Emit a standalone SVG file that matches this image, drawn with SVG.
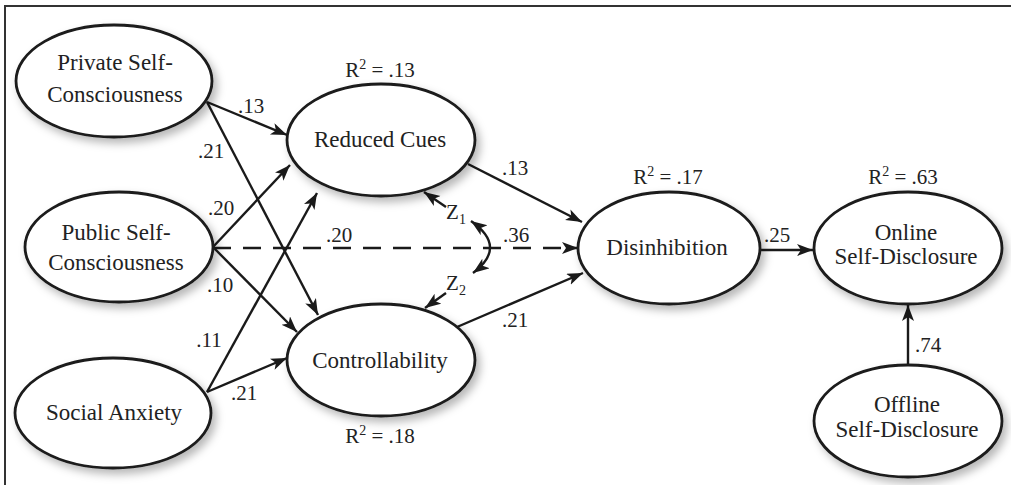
<svg xmlns="http://www.w3.org/2000/svg" width="1011" height="485" viewBox="0 0 1011 485">
<defs>
<filter id="sh" x="-20%" y="-20%" width="150%" height="160%">
<feDropShadow dx="4" dy="5" stdDeviation="4" flood-color="#000" flood-opacity="0.28"/>
</filter>
<marker id="ah" markerUnits="userSpaceOnUse" markerWidth="18" markerHeight="14" refX="16" refY="6" orient="auto-start-reverse" viewBox="0 0 18 14">
<path d="M0,0 L16,6 L0,12 L4,6 Z" fill="#1a1a1a"/>
</marker>
</defs>
<style>
.node ellipse{fill:#fff;stroke:#1a1a1a;stroke-width:2.8;filter:url(#sh)}
.nt{font-family:"Liberation Serif","Times New Roman",serif;font-size:23px;fill:#222;text-anchor:middle}
.lb{font-family:"Liberation Serif","Times New Roman",serif;font-size:21px;fill:#222;text-anchor:middle}
.sup{font-size:14px}
.edges line,.edges path{stroke:#1a1a1a;stroke-width:2.4;fill:none}
.arr{marker-end:url(#ah)}
.dash{stroke-dasharray:18 12}
</style>
<rect width="1011" height="485" fill="#fff"/>
<path d="M5,485 V6 H1011" fill="none" stroke="#333" stroke-width="2"/>

<g class="edges">
<line class="arr" x1="207" y1="102" x2="287" y2="135"/>
<line class="arr" x1="207" y1="102" x2="318" y2="315"/>
<line class="arr" x1="213" y1="247" x2="290" y2="165"/>
<line class="arr" x1="207" y1="392" x2="317" y2="193"/>
<line class="arr" x1="213" y1="247" x2="297" y2="332"/>
<line class="arr" x1="207" y1="392" x2="287" y2="358"/>
<line class="arr dash" x1="213" y1="248" x2="578" y2="248"/>
<line class="arr" x1="468" y1="164" x2="582" y2="222"/>
<line class="arr" x1="457" y1="327" x2="583" y2="273"/>
<line class="arr" x1="760" y1="250" x2="813" y2="250"/>
<line class="arr" x1="908" y1="365" x2="908" y2="305"/>
<line class="arr" x1="446" y1="207" x2="424" y2="192"/>
<line class="arr" x1="446" y1="293" x2="425" y2="308"/>
<path d="M471,221 Q508,247 473,273" style="marker-start:url(#ah);marker-end:url(#ah)"/>
</g>

<g id="private" class="node">
<ellipse cx="114" cy="81" rx="98" ry="56"/>
<text class="nt" x="115" y="70">Private Self-</text>
<text class="nt" x="115" y="102">Consciousness</text>
</g>
<g id="public" class="node">
<ellipse cx="119" cy="247" rx="94" ry="55"/>
<text class="nt" x="116" y="240">Public Self-</text>
<text class="nt" x="116" y="270">Consciousness</text>
</g>
<g id="social" class="node">
<ellipse cx="113" cy="413" rx="98" ry="55"/>
<text class="nt" x="114" y="420">Social Anxiety</text>
</g>
<g id="reduced" class="node">
<ellipse cx="381" cy="140" rx="94" ry="56"/>
<text class="nt" x="380" y="147">Reduced Cues</text>
</g>
<g id="control" class="node">
<ellipse cx="381" cy="360" rx="94" ry="56"/>
<text class="nt" x="380" y="368">Controllability</text>
</g>
<g id="disinhibition" class="node">
<ellipse cx="669" cy="248" rx="91" ry="56"/>
<text class="nt" x="667" y="255">Disinhibition</text>
</g>
<g id="online" class="node">
<ellipse cx="908" cy="248" rx="94" ry="56"/>
<text class="nt" x="906" y="240">Online</text>
<text class="nt" x="906" y="264">Self-Disclosure</text>
</g>
<g id="offline" class="node">
<ellipse cx="908" cy="421" rx="94" ry="56"/>
<text class="nt" x="907" y="412">Offline</text>
<text class="nt" x="907" y="437">Self-Disclosure</text>
</g>

<g id="labels">
<text class="lb" x="380" y="77">R<tspan class="sup" dy="-8">2</tspan><tspan dy="8"> = .13</tspan></text>
<text class="lb" x="380" y="443">R<tspan class="sup" dy="-8">2</tspan><tspan dy="8"> = .18</tspan></text>
<text class="lb" x="668" y="184">R<tspan class="sup" dy="-8">2</tspan><tspan dy="8"> = .17</tspan></text>
<text class="lb" x="903" y="184">R<tspan class="sup" dy="-8">2</tspan><tspan dy="8"> = .63</tspan></text>
<text class="lb" x="251" y="113">.13</text>
<text class="lb" x="211" y="158">.21</text>
<text class="lb" x="221" y="215">.20</text>
<text class="lb" x="339" y="242">.20</text>
<text class="lb" x="220" y="292">.10</text>
<text class="lb" x="209" y="347">.11</text>
<text class="lb" x="244" y="400">.21</text>
<text class="lb" x="515" y="175">.13</text>
<text class="lb" x="516" y="242">.36</text>
<text class="lb" x="515" y="327">.21</text>
<text class="lb" x="777" y="242">.25</text>
<text class="lb" x="928" y="352">.74</text>
<text class="lb" x="456" y="219">Z<tspan class="sup" dy="5">1</tspan></text>
<text class="lb" x="456" y="290">Z<tspan class="sup" dy="5">2</tspan></text>
</g>
</svg>
